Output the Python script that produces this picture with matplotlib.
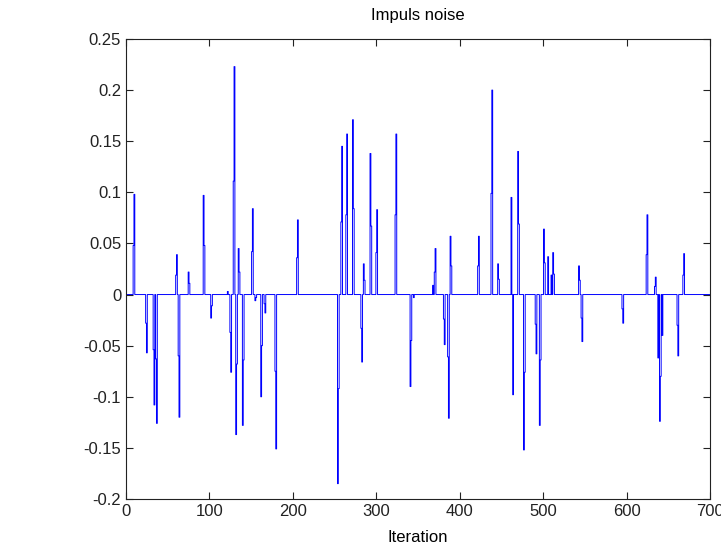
import numpy as np
import matplotlib
matplotlib.use('Agg')
import matplotlib.pyplot as plt

plt.rcParams['font.family'] = ['Liberation Sans', 'DejaVu Sans']

# noise samples that are not zero (iteration index, value); all others are 0
n_samples = 700
spike_idx = [9, 10, 24, 25, 33, 34, 36, 37, 60, 61, 63, 64, 75, 76, 93, 94,
             102, 103, 122, 125, 126, 129, 130, 132, 133, 135, 136, 140, 141,
             151, 152, 155, 156, 162, 163, 166, 167, 179, 180, 205, 206,
             254, 255, 258, 259, 264, 265, 272, 273, 282, 283, 285, 286,
             293, 294, 300, 301, 323, 324, 341, 342, 345, 368, 370, 371,
             381, 382, 386, 387, 389, 390, 422, 423, 438, 439, 446, 447,
             462, 464, 470, 471, 477, 478, 491, 492, 496, 497, 501, 502,
             506, 510, 512, 513, 543, 544, 546, 547, 595, 596, 624, 625,
             634, 635, 638, 640, 641, 643, 661, 662, 668, 669]
spike_val = [0.048, 0.098, -0.028, -0.057, -0.054, -0.108, -0.063, -0.126,
             0.019, 0.039, -0.060, -0.120, 0.022, 0.011, 0.097, 0.048,
             -0.023, -0.011, 0.003, -0.037, -0.076, 0.111, 0.223, -0.137,
             -0.068, 0.045, 0.022, -0.128, -0.064,
             0.042, 0.084, -0.006, -0.003, -0.100, -0.050, -0.009, -0.018,
             -0.075, -0.151, 0.036, 0.073,
             -0.185, -0.092, 0.071, 0.145, 0.078, 0.157, 0.171, 0.084,
             -0.033, -0.066, 0.030, 0.014,
             0.138, 0.067, 0.041, 0.083, 0.078, 0.157, -0.090, -0.045,
             -0.003, 0.009, 0.022, 0.045,
             -0.024, -0.049, -0.061, -0.121, 0.057, 0.028, 0.028, 0.057,
             0.099, 0.200, 0.030, 0.015,
             0.095, -0.098, 0.140, 0.069, -0.152, -0.076, -0.029, -0.058,
             -0.128, -0.064, 0.064, 0.031,
             0.037, 0.019, 0.041, 0.020, 0.028, 0.014, -0.023, -0.046,
             -0.014, -0.028, 0.039, 0.078,
             0.008, 0.017, -0.062, -0.124, -0.080, -0.040, -0.030, -0.060,
             0.019, 0.040]

noise = np.zeros(n_samples)
noise[np.array(spike_idx) - 1] = spike_val
iteration = np.arange(1, n_samples + 1)

fig = plt.figure(figsize=(7.21, 5.47), dpi=100)
ax = fig.add_axes([0.1748, 0.0878, 0.8099, 0.8409])
# steps so each impulse shows up as straight vertical strokes
ax.plot(iteration, noise, color='b', linewidth=0.7, drawstyle='steps-mid')

ax.set_xlim(0, 700)
ax.set_ylim(-0.2, 0.25)
ax.set_xticks(np.arange(0, 701, 100))
yticks = [-0.2, -0.15, -0.1, -0.05, 0, 0.05, 0.1, 0.15, 0.2, 0.25]
ax.set_yticks(yticks)
ax.set_yticklabels(['-0.2', '-0.15', '-0.1', '-0.05', '0', '0.05', '0.1',
                    '0.15', '0.2', '0.25'])
ax.tick_params(direction='in', top=True, right=True, length=5, width=0.8,
               labelsize=12, colors='#222222')
for s in ax.spines.values():
    s.set_linewidth(0.8)
    s.set_color('#222222')

ax.set_title('Impuls noise', fontsize=12, pad=14)
ax.set_xlabel('Iteration', fontsize=12, labelpad=8)

fig.savefig('out.png', dpi=100)
